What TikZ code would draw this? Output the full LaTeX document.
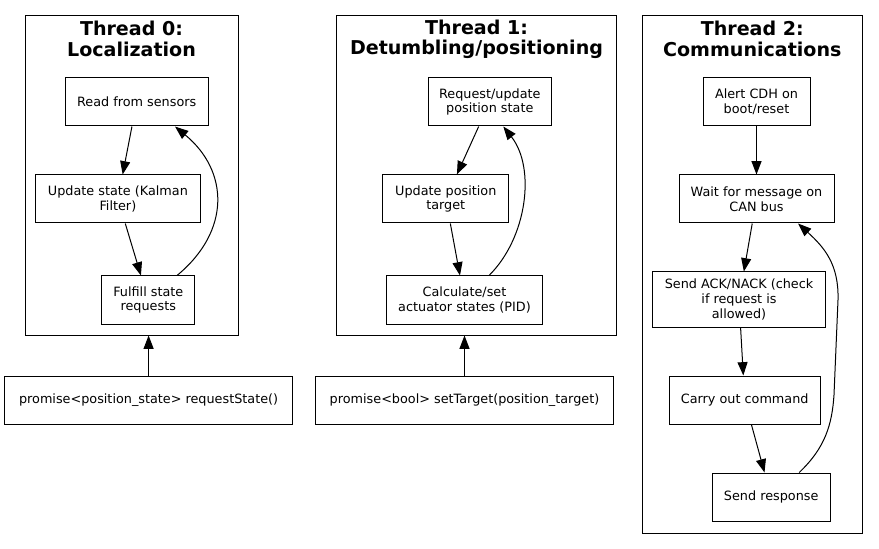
\documentclass[tikz,border=0pt]{standalone}
\usepackage{fontspec}
\setmainfont{DejaVu Sans}
\usetikzlibrary{arrows.meta, calc, fit}

\newcommand{\pxu}{0.75pt}

\tikzset{
  task/.style={draw, line width=0.75pt, align=center, inner sep=0pt,
    minimum height=48*\pxu, font=\fontsize{9.6}{10.9}\selectfont},
  cluster/.style={draw, line width=0.75pt, inner sep=0pt},
  title/.style={align=center, inner sep=0pt,
    font=\fontsize{14.3}{15.2}\selectfont\bfseries},
  flow/.style={-{Triangle[length=10pt, width=7.5pt]}, line width=0.75pt}
}

\begin{document}
\begin{tikzpicture}[x=\pxu, y=-\pxu]
  \useasboundingbox (0,0) rectangle (879,549);

  % Thread 0
  \node[cluster, fit={(25,16) (238,335)}] (clu0) {};
  \node[title] (tit0) at (131.5,39) {Thread 0:\\Localization};
  \node[task, minimum width=143.3*\pxu] (read) at (136.7,102) {Read from sensors};
  \node[task, minimum width=165.7*\pxu] (upd) at (117.9,199) {Update state (Kalman\\Filter)};
  \node[task, minimum width=93.3*\pxu] (ful) at (148.3,300) {Fulfill state\\requests};
  \node[task, minimum width=287.3*\pxu] (prom0) at (148.6,400.5) {promise<position\_state> requestState()};

  \draw[flow] (read) -- (upd);
  \draw[flow] (upd) -- (ful);
  \draw[flow] ($(ful.north)+(28.7,0)$) .. controls (231,231) and (229,171) .. ($(read.south)+(38.3,0)$);
  \draw[flow] (prom0.north) -- (prom0.north |- clu0.south);

  % Thread 1
  \node[cluster, fit={(336.3,16) (616.7,335)}] (clu1) {};
  \node[title] (tit1) at (476.5,39) {Thread 1:\\Detumbling/positioning};
  \node[task, minimum width=123*\pxu] (req) at (489.8,102) {Request/update\\position state};
  \node[task, minimum width=125.7*\pxu] (updt) at (445.8,199) {Update position\\target};
  \node[task, minimum width=156.4*\pxu] (calc) at (464.5,300) {Calculate/set\\actuator states (PID)};
  \node[task, minimum width=297.6*\pxu] (prom1) at (464.5,400.5) {promise<bool> setTarget(position\_target)};

  \draw[flow] (req) -- (updt);
  \draw[flow] (updt) -- (calc);
  \draw[flow] ($(calc.north)+(24.5,0)$) .. controls (527,238) and (536,168) .. ($(req.south)+(13.5,0)$);
  \draw[flow] (prom1.north) -- (prom1.north |- clu1.south);

  % Thread 2
  \node[cluster, fit={(642.3,16) (862.3,533)}] (clu2) {};
  \node[title] (tit2) at (752.3,39) {Thread 2:\\Communications};
  \node[task, minimum width=107*\pxu] (alert) at (756.5,101.5) {Alert CDH on\\boot/reset};
  \node[task, minimum width=155*\pxu] (wait) at (756.5,199) {Wait for message on\\CAN bus};
  \node[task, minimum width=173.4*\pxu, minimum height=55*\pxu] (ack) at (739,299.5) {Send ACK/NACK (check\\if request is\\allowed)};
  \node[task, minimum width=151.3*\pxu] (carry) at (744.7,400) {Carry out command};
  \node[task, minimum width=117.7*\pxu] (resp) at (771.2,497) {Send response};

  \draw[flow] (alert) -- (wait);
  \draw[flow] (wait) -- (ack);
  \draw[flow] (ack) -- (carry);
  \draw[flow] (carry) -- (resp);
  \draw[flow] ($(resp.north)+(28,0)$) .. controls (825,448) and (832,425) .. (834,395)
    -- (838,300) .. controls (839,265) and (825,248) .. ($(wait.south)+(41.5,0)$);
\end{tikzpicture}
\end{document}
